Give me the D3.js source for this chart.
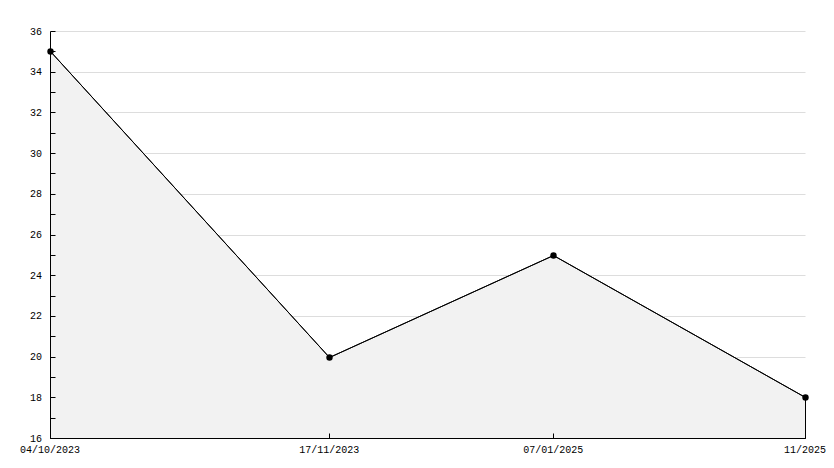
<!DOCTYPE html>
<html>
<head>
<meta charset="utf-8">
<script src="https://cdn.jsdelivr.net/npm/d3@7/dist/d3.min.js"></script>
<style>
  body { margin: 0; background: #fff; }
  text { font-family: "Liberation Mono", "DejaVu Sans Mono", monospace; font-size: 10px; fill: #000; }
</style>
</head>
<body>
<div id="chart"></div>
<script>
const labels = ['04/10/2023', '17/11/2023', '07/01/2025', '11/2025'];
const xIndex = [0, 1.11, 2, 3];
const values = [35, 20, 25, 18];
const yTicks = [16, 18, 20, 22, 24, 26, 28, 30, 32, 34, 36];

const width = 834, height = 468;
const margin = {top: 31, right: 29, bottom: 30, left: 50};

const svg = d3.select('#chart').append('svg')
    .attr('width', width)
    .attr('height', height);

const x = d3.scaleLinear().domain([0, 3]).range([margin.left, width - margin.right]);
const y = d3.scaleLinear().domain([16, 36]).range([height - margin.bottom, margin.top]);

const data = values.map((v, i) => ({x: xIndex[i], v, label: labels[i]}));
const px = d => Math.round(x(d)) + 0.5;
const py = d => Math.round(y(d)) + 0.5;

// grid
svg.append('g').selectAll('line')
    .data(yTicks.slice(1))
    .enter().append('line')
    .attr('x1', margin.left + 5).attr('x2', px(3))
    .attr('y1', d => py(d)).attr('y2', d => py(d))
    .attr('stroke', '#dddddd');

// area
const area = d3.area()
    .x(d => px(d.x))
    .y0(py(16))
    .y1(d => py(d.v));
svg.append('path')
    .datum(data)
    .attr('d', area)
    .attr('fill', '#f2f2f2')
    .attr('stroke', '#000')
    .attr('stroke-width', 1);

// line
svg.append('path')
    .datum(data)
    .attr('d', d3.line().x(d => px(d.x)).y(d => py(d.v)))
    .attr('fill', 'none')
    .attr('stroke', '#000');

// axes
svg.append('line')
    .attr('x1', px(0)).attr('x2', px(0))
    .attr('y1', py(36)).attr('y2', py(16))
    .attr('stroke', '#000');
svg.append('line')
    .attr('x1', px(0)).attr('x2', px(3))
    .attr('y1', py(16)).attr('y2', py(16))
    .attr('stroke', '#000');

// y ticks, major and minor
svg.append('g').selectAll('line')
    .data(d3.range(17, 37))
    .enter().append('line')
    .attr('x1', px(0)).attr('x2', px(0) + 5)
    .attr('y1', d => py(d)).attr('y2', d => py(d))
    .attr('stroke', '#000');

svg.append('g').selectAll('text')
    .data(yTicks)
    .enter().append('text')
    .attr('x', margin.left - 8)
    .attr('y', d => y(d))
    .attr('dy', '0.35em')
    .attr('text-anchor', 'end')
    .text(d => d);

// x ticks
svg.append('g').selectAll('line')
    .data(data)
    .enter().append('line')
    .attr('x1', d => px(d.x)).attr('x2', d => px(d.x))
    .attr('y1', py(16) - 5).attr('y2', py(16))
    .attr('stroke', '#000');

svg.append('g').selectAll('text')
    .data(data)
    .enter().append('text')
    .attr('x', d => x(d.x))
    .attr('y', height - margin.bottom + 15)
    .attr('text-anchor', 'middle')
    .text(d => d.label);

// markers
svg.append('g').selectAll('circle')
    .data(data)
    .enter().append('circle')
    .attr('cx', d => px(d.x))
    .attr('cy', d => py(d.v))
    .attr('r', 3.2)
    .attr('fill', '#000');
</script>
</body>
</html>
